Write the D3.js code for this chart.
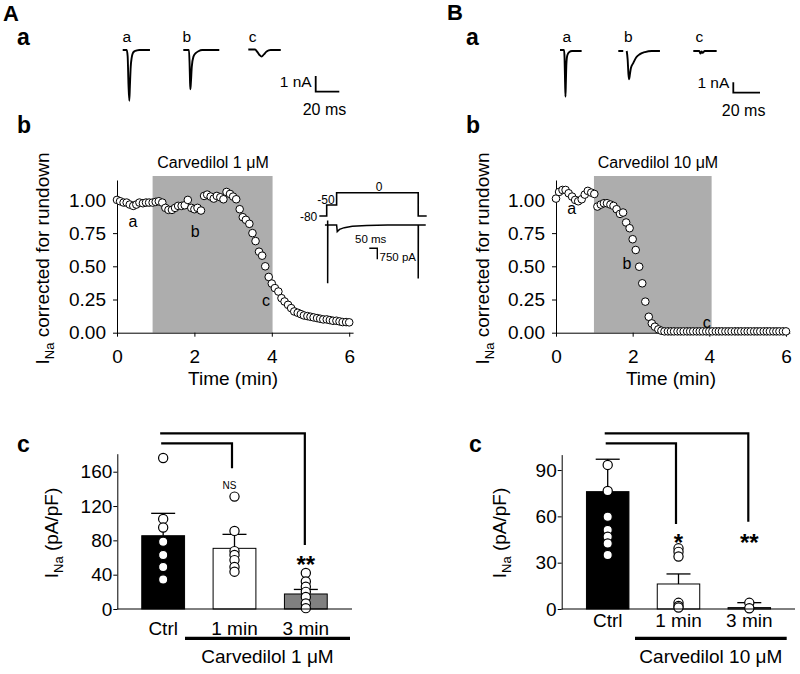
<!DOCTYPE html>
<html><head><meta charset="utf-8">
<script src="https://cdn.jsdelivr.net/npm/d3@7"></script>
<style>body{margin:0;background:#fff} svg{display:block}</style>
</head><body>
<svg id="c" width="800" height="674"></svg>
<script>
// ================= DATA =================
// Example current traces: [time (ms), current (nA)]
const traceAa = [[0,0],[3.4,0],[4.2,-0.4],[4.9,-2.2],[5.6,-3.23],[6.1,-2.3],[6.8,-1.06],[7.6,-0.5],[8.5,-0.21],[10,-0.08],[11.9,-0.03],[14,0],[23.1,0]];
const traceAb = [[0,0],[4.8,0],[5.3,-0.8],[5.7,-2.0],[6.0,-2.5],[6.5,-2.0],[7.2,-1.06],[8.6,-0.42],[10.5,-0.2],[12.8,-0.08],[16,0],[30.5,0]];
const traceAc = [[0,0.03],[5.7,0.03],[7.6,-0.12],[9.5,-0.32],[11.3,-0.42],[13.2,-0.28],[15.5,-0.1],[18.9,0],[27.5,0]];
const traceBa = [[0,0.1],[3.0,0.1],[3.4,-0.6],[3.8,-3.0],[4.1,-4.35],[4.4,-3.0],[4.8,-1.2],[5.5,-0.4],[7,-0.1],[9,0],[16.2,0]];
const traceBb = [[0,0],[3.7,0],[null,null],[6.3,0],[7.0,-0.8],[7.6,-2.2],[8.1,-2.7],[8.6,-2.3],[9.5,-1.6],[11.2,-1.15],[13.5,-0.6],[16.2,-0.3],[20,-0.1],[25,0],[31.2,0]];
const traceBc = [[0,0],[4.5,0],[5.3,-0.25],[6.2,-0.05],[7.0,-0.18],[8.5,0],[17.5,0]];
const scaleBarNA = 1, scaleBarMs = 20;

// Inset: voltage protocol [ms, mV] and current [ms, pA]
const protocolV = [[-46,-80],[0,-80],[0,-50],[62,-50],[62,0],[572,0],[572,-80],[625,-80]];
const protocolLabels = [["-80",-80],["-50",-50],["0",0]];
const insetI = [[-11,0],[6,0],[6,300],[6,-3975],[7,0],[62,0],[66,-450],[80,-300],[110,-180],[160,-90],[250,-30],[380,0],[572,0],[572,-3640],[573,0],[619,0]];
const insetBarMs = 50, insetBarPA = 750;

// Time courses (min, normalized I_Na)
const timeMin = [0,0.08,0.17,0.25,0.33,0.42,0.5,0.58,0.67,0.75,0.83,0.92,1,1.08,1.17,1.25,1.33,1.42,1.5,1.58,1.67,1.75,1.83,1.92,2,2.08,2.17,2.25,2.33,2.42,2.5,2.58,2.67,2.75,2.83,2.92,3,3.08,3.17,3.25,3.33,3.42,3.5,3.58,3.67,3.75,3.83,3.92,4,4.08,4.17,4.25,4.33,4.42,4.5,4.58,4.67,4.75,4.83,4.92,5,5.08,5.17,5.25,5.33,5.42,5.5,5.58,5.67,5.75,5.83,5.92,6];
const normA = [1.00,0.99,0.98,0.98,0.965,0.955,0.965,0.98,0.975,0.98,0.98,0.98,0.985,0.99,0.98,0.94,0.925,0.925,0.94,0.955,0.955,0.96,1.00,0.94,0.93,0.94,0.92,1.03,1.04,1.025,1.01,1.03,1.02,1.005,1.06,1.045,1.025,1.005,0.93,0.87,0.85,0.82,0.75,0.69,0.61,0.58,0.50,0.42,0.37,0.336,0.31,0.26,0.235,0.21,0.185,0.16,0.15,0.14,0.13,0.125,0.12,0.115,0.11,0.105,0.10,0.10,0.095,0.09,0.09,0.085,0.08,0.08,0.078];
const normB = [1.01,1.06,1.075,1.075,1.05,1.025,1.0,0.99,1.005,1.04,1.068,1.055,1.045,0.95,0.965,0.975,0.975,0.965,0.955,0.93,0.895,0.905,0.83,0.787,0.704,0.623,0.497,0.372,0.234,0.12,0.07,0.045,0.025,0.015,0.01,0.01,0.01,0.01,0.01,0.01,0.01,0.01,0.01,0.01,0.01,0.01,0.01,0.01,0.01,0.01,0.01,0.01,0.01,0.01,0.01,0.01,0.01,0.01,0.01,0.01,0.01,0.01,0.01,0.01,0.01,0.01,0.01,0.01,0.01,0.01,0.01,0.01,0.01];
const drugWindowA = [0.92, 4.02], drugWindowB = [0.99, 4.06];
const markA = [["a",0.41,0.83],["b",2.02,0.76],["c",3.85,0.24]];
const markB = [["a",0.41,0.93],["b",1.85,0.52],["c",3.93,0.07]];
const timeTicks = [0,2,4,6];
const normTicks = [0,0.25,0.5,0.75,1.0];

// Bar charts (pA/pF)
const barCats = ["Ctrl","1 min","3 min"];
const meansA = [85.4, 70.7, 17.5];
const semA = [26.1, 16.3, 5.3];
const pointsA = [[176,105,95,78.5,63,49,34.5],[131,91,67.5,63,57,49,43.5],[42,32,26,20,14,6.5,1]];
const ticksA = [0,40,80,120,160];
const meansB = [76, 16.2, 0.9];
const semB = [21, 6.5, 3.2];
const pointsB = [[93.3,76.4,59.8,51.2,46.8,42.5,35],[39.3,37,34,4,2,1],[4,0.5]];
const ticksB = [0,30,60,90];
const barFills = ["#000000","#ffffff","#808080"];
const sigA = ["NS","**"], sigB = ["*","**"];

// ================= DRAWING =================
const F = "Arial, 'Liberation Sans', sans-serif";
const svg = d3.select("#c");
function label(x, y, s, size, anchor, weight) {
  return svg.append("text").attr("x", x).attr("y", y)
    .attr("font-family", F).attr("font-size", size)
    .attr("text-anchor", anchor || "middle").attr("font-weight", weight || "normal")
    .attr("fill", "#000").text(s);
}

// panel letters
label(3, 21, "A", 22, "start", "bold");
label(17, 45, "a", 23, "start", "bold");
label(17, 133, "b", 23, "start", "bold");
label(17, 452, "c", 23, "start", "bold");
label(447, 20, "B", 22, "start", "bold");
label(466, 45, "a", 23, "start", "bold");
label(466, 133, "b", 23, "start", "bold");
label(469, 452, "c", 23, "start", "bold");

// ---------- example traces ----------
function traceGroup(traces, x0s, baseY, pxPerMs, pxPerNA, names, bar) {
  const xs = d3.scaleLinear().domain([0, 20]).range([0, 20 * pxPerMs]);
  const ys = d3.scaleLinear().domain([0, 1]).range([0, -pxPerNA]);
  traces.forEach((tr, i) => {
    const line = d3.line().defined(d => d[0] !== null)
      .x(d => x0s[i] + xs(d[0])).y(d => baseY + ys(d[1])).curve(d3.curveMonotoneX);
    svg.append("path").datum(tr).attr("d", line).attr("fill", "none")
      .attr("stroke", "#000").attr("stroke-width", 1.9).attr("stroke-linejoin", "round");
    label(names[i][0], 41.5, names[i][1], 15.5);
  });
  // scale bar
  const bx = bar.x, by = bar.y;
  svg.append("path").attr("d", `M${bx},${by + ys(scaleBarNA)} L${bx},${by} L${bx + xs(scaleBarMs)},${by}`)
    .attr("fill", "none").attr("stroke", "#000").attr("stroke-width", 1.8);
  label(bx - 4, by - 4.5, scaleBarNA + " nA", 15.5, "end");
  label(bx + xs(scaleBarMs) / 2 - 3, by + 23.5, scaleBarMs + " ms", 16);
}
traceGroup([traceAa, traceAb, traceAc], [122.7, 183.3, 248.3], 50, 1.18, 15.7,
  [[126.7, "a"], [186.7, "b"], [252.7, "c"]], {x: 315.7, y: 91.7});
traceGroup([traceBa, traceBb, traceBc], [560, 618.3, 693.3], 51, 1.335, 10.5,
  [[566.7, "a"], [628.3, "b"], [699.3, "c"]], {x: 733.3, y: 92.7});

// ---------- time courses ----------
function timeCourse(o) {
  const x = d3.scaleLinear().domain([0, 6.1]).range([o.x0, o.x0 + 6.1 * o.pxPerMin]);
  const y = d3.scaleLinear().domain([0, 1.15]).range([332.7, 180]);
  svg.append("rect").attr("x", x(o.win[0])).attr("width", x(o.win[1]) - x(o.win[0]))
    .attr("y", y(1.18)).attr("height", y(0) - y(1.18)).attr("fill", "#adadad");
  const gx = svg.append("g").attr("transform", `translate(0,${y(0)})`)
    .call(d3.axisBottom(x).tickValues(timeTicks).tickSize(4).tickSizeOuter(0).tickPadding(13).tickFormat(d3.format("d")));
  const gy = svg.append("g").attr("transform", `translate(${o.x0},0)`)
    .call(d3.axisLeft(y).tickValues(normTicks).tickSize(4).tickSizeOuter(0).tickPadding(7).tickFormat(d3.format(".2f")));
  [gx, gy].forEach(g => {
    g.selectAll("text").attr("font-family", F).attr("font-size", 19).attr("fill", "#000");
    g.selectAll("line,path").attr("stroke", "#000");
  });
  svg.append("g").selectAll("circle").data(timeMin.map((t, i) => [t, o.vals[i]])).join("circle")
    .attr("cx", d => x(d[0])).attr("cy", d => y(d[1])).attr("r", 3.8)
    .attr("fill", "#fff").attr("stroke", "#000").attr("stroke-width", 1);
  o.marks.forEach(m => label(x(m[1]), y(m[2]) + 5, m[0], 16));
  label(o.titleX, 168, o.title, 16);
  label(x(3), 385, "Time (min)", 19);
  const t = svg.append("text").attr("transform", `translate(${o.labX},258.5) rotate(-90)`)
    .attr("font-family", F).attr("font-size", 19).attr("text-anchor", "middle");
  t.append("tspan").text("I");
  t.append("tspan").attr("font-size", 13).attr("dy", 5).text("Na");
  t.append("tspan").attr("dy", -5).text(" corrected for rundown");
}
timeCourse({x0: 117, pxPerMin: 38.7, vals: normA, win: drugWindowA, marks: markA,
  title: "Carvedilol 1 \u03bcM", titleX: 213, labX: 48.5});
timeCourse({x0: 556, pxPerMin: 38.33, vals: normB, win: drugWindowB, marks: markB,
  title: "Carvedilol 10 \u03bcM", titleX: 658, labX: 489});

// ---------- inset ----------
(function () {
  const t0 = 326.7;
  const xs = d3.scaleLinear().domain([0, 50]).range([t0, t0 + 8]);
  const yv = d3.scaleLinear().domain([-80, -50, 0]).range([216, 205, 192.7]);
  const yi = d3.scaleLinear().domain([0, -750]).range([225, 236]);
  svg.append("path").datum(protocolV).attr("d", d3.line().x(d => xs(d[0])).y(d => yv(d[1])))
    .attr("fill", "none").attr("stroke", "#000").attr("stroke-width", 1.6);
  svg.append("path").datum(insetI).attr("d", d3.line().x(d => xs(d[0])).y(d => yi(d[1])))
    .attr("fill", "none").attr("stroke", "#000").attr("stroke-width", 1.5);
  label(317.3, 220.7, protocolLabels[0][0], 12, "end");
  label(317.3, 204, protocolLabels[1][0], 12, "start");
  label(379, 191.2, protocolLabels[2][0], 12);
  const bx = 369.3, by = 248.3;
  svg.append("path").attr("d", `M${bx},${by} L${bx + xs(insetBarMs) - xs(0)},${by} L${bx + xs(insetBarMs) - xs(0)},${by + yi(-insetBarPA) - yi(0)}`)
    .attr("fill", "none").attr("stroke", "#000").attr("stroke-width", 1.4);
  label(355, 243.3, insetBarMs + " ms", 11.5, "start");
  label(379.5, 260.5, insetBarPA + " pA", 11.5, "start");
})();

// ---------- bar charts ----------
function barChart(o) {
  const x = d3.scaleBand().domain(barCats).range(o.band).paddingInner(0.4).paddingOuter(0.2);
  const y = d3.scaleLinear().domain([0, o.yMax]).range([609, o.yTopPx]);
  const cx = c => x(c) + x.bandwidth() / 2;
  // bars
  svg.append("g").selectAll("rect").data(barCats).join("rect")
    .attr("x", c => x(c)).attr("width", x.bandwidth())
    .attr("y", (c, i) => y(o.means[i])).attr("height", (c, i) => y(0) - y(o.means[i]))
    .attr("fill", (c, i) => barFills[i]).attr("stroke", "#000").attr("stroke-width", 1);
  // error bars
  barCats.forEach((c, i) => {
    const top = y(o.means[i] + o.sem[i]);
    svg.append("line").attr("x1", cx(c)).attr("x2", cx(c)).attr("y1", y(o.means[i])).attr("y2", top)
      .attr("stroke", "#000").attr("stroke-width", 1.3);
    svg.append("line").attr("x1", cx(c) - 12).attr("x2", cx(c) + 12).attr("y1", top).attr("y2", top)
      .attr("stroke", "#000").attr("stroke-width", 1.3);
  });
  // points
  barCats.forEach((c, i) => {
    svg.append("g").selectAll("circle").data(o.points[i]).join("circle")
      .attr("cx", cx(c)).attr("cy", d => y(d)).attr("r", 4.6)
      .attr("fill", "#fff").attr("stroke", "#000").attr("stroke-width", 1.2);
  });
  // axes
  svg.append("line").attr("x1", o.axisX).attr("x2", o.axisEnd).attr("y1", 609).attr("y2", 609)
    .attr("stroke", "#000").attr("stroke-width", 1);
  const gy = svg.append("g").attr("transform", `translate(${o.axisX},0)`)
    .call(d3.axisLeft(y).tickValues(o.ticks).tickSize(4).tickSizeOuter(0).tickPadding(1));
  gy.selectAll("text").attr("font-family", F).attr("font-size", 19).attr("fill", "#000");
  gy.selectAll("line,path").attr("stroke", "#000");
  // category labels
  barCats.forEach(c => label(cx(c), o.catY, c, 19));
  svg.append("line").attr("x1", o.under[0]).attr("x2", o.under[1]).attr("y1", 638.3).attr("y2", 638.3)
    .attr("stroke", "#000").attr("stroke-width", 3.2);
  label((o.under[0] + o.under[1]) / 2, 663, o.drug, 19);
  // y label
  const t = svg.append("text").attr("transform", `translate(${o.labX},533) rotate(-90)`)
    .attr("font-family", F).attr("font-size", 19).attr("text-anchor", "middle");
  t.append("tspan").text("I");
  t.append("tspan").attr("font-size", 13).attr("dy", 5).text("Na");
  t.append("tspan").attr("dy", -5).text(" (pA/pF)");
  // comparison brackets
  const xs0 = cx("Ctrl") - 3;
  svg.append("path").attr("d", `M${xs0},433.3 L${cx("3 min") - 1},433.3 L${cx("3 min") - 1},${o.drop[1]}`)
    .attr("fill", "none").attr("stroke", "#000").attr("stroke-width", 2.2);
  svg.append("path").attr("d", `M${xs0 + 1},443.3 L${cx("1 min") - 2.5},443.3 L${cx("1 min") - 2.5},${o.drop[0]}`)
    .attr("fill", "none").attr("stroke", "#000").attr("stroke-width", 2.2);
  // significance marks
  o.sig.forEach((s, i) => {
    const c = barCats[i + 1];
    if (s === "NS") label(cx(c) - 5, o.sigY[i], s, 10);
    else label(cx(c), o.sigY[i], s, 24, "middle", "bold");
  });
}
barChart({band: [127.5, 341.5], yMax: 181, yTopPx: 453.7, means: meansA, sem: semA, points: pointsA,
  ticks: ticksA, axisX: 117.3, axisEnd: 352, catY: 634.5, under: [185, 350], drug: "Carvedilol 1 \u03bcM",
  labX: 57.5, drop: [468.3, 545], sig: sigA, sigY: [488.5, 572.5]});
barChart({band: [572.3, 784.7], yMax: 100, yTopPx: 454.6, means: meansB, sem: semB, points: pointsB,
  ticks: ticksB, axisX: 561.7, axisEnd: 795, catY: 627, under: [635, 786.7], drug: "Carvedilol 10 \u03bcM",
  labX: 506, drop: [524, 521.7], sig: sigB, sigY: [551, 550.5]});
</script>
</body></html>
